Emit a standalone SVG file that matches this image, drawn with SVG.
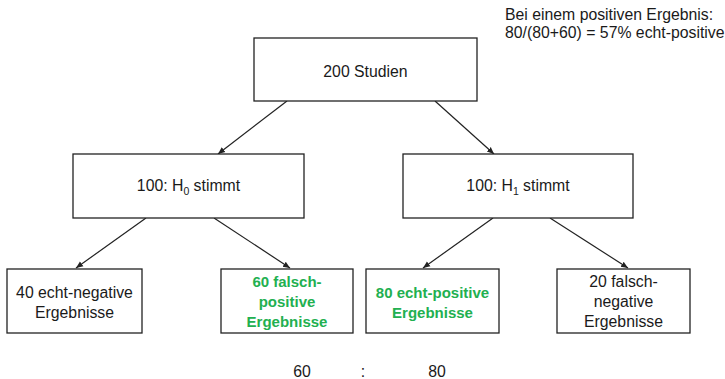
<svg xmlns="http://www.w3.org/2000/svg" width="725" height="379" viewBox="0 0 725 379">
<style>
.box{fill:#fff;stroke:#222;stroke-width:1.3}
.t{font-family:"Liberation Sans",Arial,sans-serif;font-size:15.8px;fill:#1a1a1a;text-anchor:middle}
.g{fill:#22b050;font-weight:bold;font-size:15px}
.sub{font-size:10.5px}
.c{stroke:#222;stroke-width:1.2;fill:none;marker-end:url(#ah)}
</style>
<defs>
<marker id="ah" markerWidth="8" markerHeight="8" refX="7" refY="4" orient="auto" markerUnits="userSpaceOnUse">
<path d="M0,1 L7,4 L0,7 Z" fill="#222"/>
</marker>
</defs>
<rect width="725" height="379" fill="#fff"/>
<g id="connectors">
<line class="c" x1="287" y1="101" x2="218" y2="154"/>
<line class="c" x1="435" y1="101" x2="494" y2="154"/>
<line class="c" x1="146" y1="218" x2="76" y2="268"/>
<line class="c" x1="214" y1="218" x2="290" y2="268"/>
<line class="c" x1="493" y1="218" x2="423" y2="268"/>
<line class="c" x1="550" y1="218" x2="628" y2="268"/>
</g>
<g id="root">
<rect class="box" x="254" y="38" width="223" height="63"/>
<text class="t" x="365.5" y="77">200 Studien</text>
</g>
<g id="h0">
<rect class="box" x="73" y="154" width="231" height="64"/>
<text class="t" x="188.5" y="191">100: H<tspan class="sub" dy="4">0</tspan><tspan dy="-4"> stimmt</tspan></text>
</g>
<g id="h1">
<rect class="box" x="403" y="154" width="230" height="64"/>
<text class="t" x="518" y="191">100: H<tspan class="sub" dy="4">1</tspan><tspan dy="-4"> stimmt</tspan></text>
</g>
<g id="tn">
<rect class="box" x="7" y="269" width="135" height="64"/>
<text class="t" x="74.5" y="298">40 echt-negative</text>
<text class="t" x="74.5" y="318">Ergebnisse</text>
</g>
<g id="fp">
<rect class="box" x="221" y="269" width="132" height="64"/>
<text class="t g" x="287" y="287">60 falsch-</text>
<text class="t g" x="287" y="307">positive</text>
<text class="t g" x="287" y="327">Ergebnisse</text>
</g>
<g id="tp">
<rect class="box" x="366" y="269" width="133" height="64"/>
<text class="t g" x="432.5" y="298">80 echt-positive</text>
<text class="t g" x="432.5" y="318">Ergebnisse</text>
</g>
<g id="fn">
<rect class="box" x="557" y="269" width="133" height="64"/>
<text class="t" x="623.5" y="287">20 falsch-</text>
<text class="t" x="623.5" y="307">negative</text>
<text class="t" x="623.5" y="327">Ergebnisse</text>
</g>
<g id="note">
<text class="t" x="505" y="20" style="text-anchor:start">Bei einem positiven Ergebnis:</text>
<text class="t" x="505" y="38" style="text-anchor:start">80/(80+60) = 57% echt-positive</text>
</g>
<g id="ratio">
<text class="t" x="302" y="377">60</text>
<text class="t" x="363" y="377">:</text>
<text class="t" x="437" y="377">80</text>
</g>
</svg>
